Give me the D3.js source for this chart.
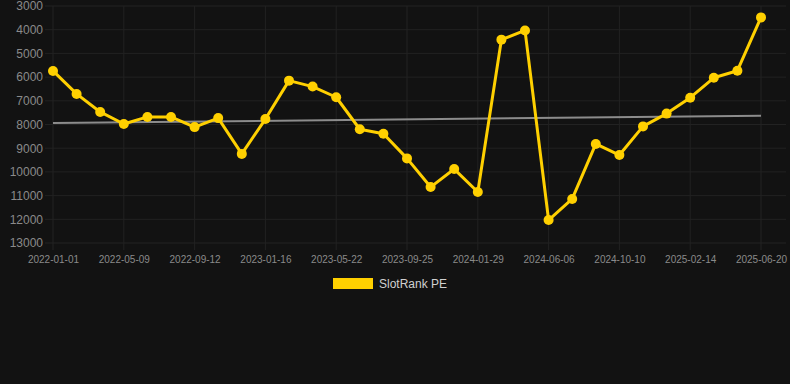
<!DOCTYPE html>
<html>
<head>
<meta charset="utf-8">
<script src="https://cdn.jsdelivr.net/npm/d3@7"></script>
<style>
  html, body { margin: 0; padding: 0; background: #121212; }
  svg { display: block; font-family: "Liberation Sans", Arial, sans-serif; }
</style>
</head>
<body>
<script>
// dates of each point (only every 4th shows on the axis)
var dates = ["2022-01-01","2022-02-12","2022-03-26","2022-05-09","2022-06-20","2022-08-01",
  "2022-09-12","2022-10-24","2022-12-05","2023-01-16","2023-02-27","2023-04-10","2023-05-22",
  "2023-07-03","2023-08-14","2023-09-25","2023-11-06","2023-12-18","2024-01-29","2024-03-11",
  "2024-04-24","2024-06-06","2024-07-18","2024-08-29","2024-10-10","2024-11-22","2025-01-03",
  "2025-02-14","2025-03-28","2025-05-09","2025-06-20"]
var rankPE = [5740, 6710, 7470, 7980, 7680, 7680, 8110, 7730, 9240, 7770, 6150, 6400, 6850,
  8200, 8390, 9430, 10640, 9880, 10850, 4420, 4030, 12030, 11140, 8820, 9290, 8080, 7540,
  6870, 6030, 5730, 3480]
var trendEnds = [7940, 7630]
var yTicks = [3000, 4000, 5000, 6000, 7000, 8000, 9000, 10000, 11000, 12000, 13000]
var seriesName = "SlotRank PE"

var W = 790, H = 384
var m = { left: 53, right: 29, top: 6, bottom: 141 }
var yellow = "#ffd000"

var svg = d3.select("body").append("svg")
  .attr("width", W).attr("height", H)

svg.append("rect").attr("width", W).attr("height", H).attr("fill", "#121212")

var x = d3.scalePoint().domain(dates).range([m.left, W - m.right])
var y = d3.scaleLinear().domain([3000, 13000]).range([m.top, H - m.bottom])

var shown = dates.filter((d, i) => i % 3 == 0)

// grid
svg.append("g").selectAll("line").data(yTicks).enter().append("line")
  .attr("x1", m.left - 8).attr("x2", W - 4)
  .attr("y1", d => y(d)).attr("y2", d => y(d))
  .attr("stroke", "#222").attr("stroke-width", 1)
svg.append("g").selectAll("line").data(shown).enter().append("line")
  .attr("x1", d => x(d)).attr("x2", d => x(d))
  .attr("y1", m.top).attr("y2", H - m.bottom + 7)
  .attr("stroke", "#222").attr("stroke-width", 1)

// y axis
var yAxis = svg.append("g")
  .attr("transform", "translate(" + (m.left - 10) + ",0)")
  .call(d3.axisLeft(y).tickValues(yTicks).tickSize(0).tickPadding(0).tickFormat(d3.format("d")))
yAxis.select(".domain").remove()
yAxis.selectAll("text").attr("fill", "#8a8a8a").style("font-size", "12px")

// x axis
var xAxis = svg.append("g")
  .attr("transform", "translate(0," + (H - m.bottom) + ")")
  .call(d3.axisBottom(x).tickValues(shown).tickSize(0).tickPadding(13))
xAxis.select(".domain").remove()
xAxis.selectAll("text").attr("fill", "#8a8a8a").style("font-size", "10px")

// trend line
svg.append("line")
  .attr("x1", x(dates[0])).attr("x2", x(dates[dates.length - 1]))
  .attr("y1", y(trendEnds[0])).attr("y2", y(trendEnds[1]))
  .attr("stroke", "#8c8c8c").attr("stroke-width", 2)

// series
var line = d3.line().x((d, i) => x(dates[i])).y(d => y(d))
svg.append("path").datum(rankPE)
  .attr("d", line)
  .attr("fill", "none").attr("stroke", yellow).attr("stroke-width", 3)
  .attr("stroke-linejoin", "round")

svg.append("g").selectAll("circle").data(rankPE).enter().append("circle")
  .attr("cx", (d, i) => x(dates[i])).attr("cy", d => y(d))
  .attr("r", 5).attr("fill", yellow)

// legend
var lg = svg.append("g")
lg.append("rect").attr("x", 333).attr("y", 278).attr("width", 40).attr("height", 11).attr("fill", yellow)
lg.append("text").attr("x", 379).attr("y", 288)
  .attr("fill", "#d0d0d0").style("font-size", "12px").text(seriesName)
</script>
</body>
</html>
